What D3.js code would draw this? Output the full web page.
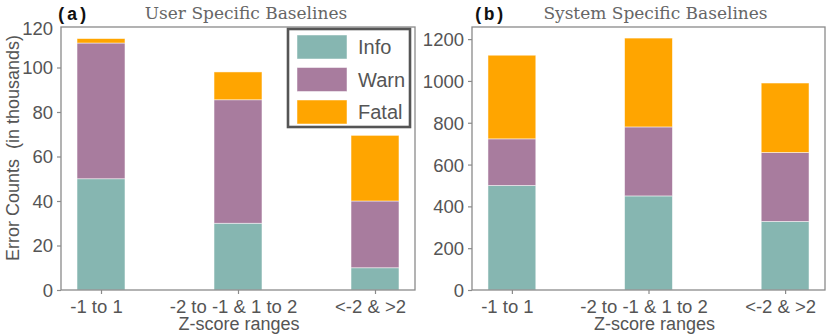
<!DOCTYPE html>
<html>
<head>
<meta charset="utf-8">
<script src="https://cdn.jsdelivr.net/npm/d3@7"></script>
<style>
  body { margin: 0; background: #fff; }
  svg { display: block; }
  .tick text { font-family: "Liberation Sans", Arial, sans-serif; font-size: 18.5px; fill: #555; }
</style>
</head>
<body>
<div id="chart"></div>
<script>
// data
var categories = ["-1 to 1", "-2 to -1 & 1 to 2", "<-2 & >2"];
var seriesNames = ["Info", "Warn", "Fatal"];
var colors = ["#86b6b1", "#a87c9e", "#ffa500"];

// user specific baselines (in thousands)
var userInfo  = [50, 30, 10];
var userWarn  = [61, 55.5, 30];
var userFatal = [2, 12.5, 29.5];
var userTicks = [0, 20, 40, 60, 80, 100, 120];

// system specific baselines
var sysInfo  = [500, 450, 328];
var sysWarn  = [223, 330, 330];
var sysFatal = [400, 425, 332];
var sysTicks = [0, 200, 400, 600, 800, 1000, 1200];

var W = 830, H = 335;
var svg = d3.select("#chart").append("svg").attr("width", W).attr("height", H);

var drawPanel = function (opt) {
    var left = opt.left, right = opt.right, top = 27, bottom = 290;

    var x = d3.scaleLinear().domain([-0.292, 2.292]).range([left, right]);
    var y = d3.scaleLinear().domain([0, opt.ymax]).range([bottom, top]);

    var rows = categories.map(function (c, i) {
        return { cat: i, Info: opt.info[i], Warn: opt.warn[i], Fatal: opt.fatal[i] };
    });
    var stacked = d3.stack().keys(seriesNames)(rows);
    var bw = 0.35;

    var g = svg.append("g");
    stacked.forEach(function (layer, k) {
        g.selectAll(".b" + k).data(layer).enter().append("rect")
            .attr("x", function (d) { return x(d.data.cat - bw / 2); })
            .attr("width", function (d) { return x(bw) - x(0); })
            .attr("y", function (d) { return y(d[1]); })
            .attr("height", function (d) { return y(d[0]) - y(d[1]); })
            .attr("fill", colors[k])
            .attr("stroke", "#fff")
            .attr("stroke-opacity", 0.6)
            .attr("stroke-width", 0.8);
    });

    // frame
    g.append("rect")
        .attr("x", left).attr("y", top)
        .attr("width", right - left).attr("height", bottom - top)
        .attr("fill", "none").attr("stroke", "#8a8a8a").attr("stroke-width", 1.3);

    // y axis
    var yAxis = d3.axisLeft(y).tickValues(opt.ticks).tickSize(4).tickPadding(4)
        .tickSizeOuter(0).tickFormat(d3.format("d"));
    var ya = g.append("g").attr("transform", "translate(" + left + ",0)").call(yAxis);
    ya.select(".domain").remove();
    ya.selectAll(".tick line").attr("stroke", "#8a8a8a").attr("stroke-width", 1.2);
    ya.selectAll(".tick text").attr("dy", "0.35em");
    // the top label sits just under the frame, without a tick mark
    ya.selectAll(".tick").filter(function (d) { return y(d) < top; })
        .attr("transform", "translate(0," + (top + 2) + ")")
        .select("line").remove();

    // x axis
    var xAxis = d3.axisBottom(x).tickValues([0, 1, 2]).tickSize(4).tickPadding(6)
        .tickFormat(function (d) { return categories[d]; });
    var xa = g.append("g").attr("transform", "translate(0," + bottom + ")").call(xAxis);
    xa.select(".domain").remove();
    xa.selectAll(".tick line").attr("stroke", "#8a8a8a").attr("stroke-width", 1.2);
    xa.selectAll(".tick text").attr("dx", -5);

    // x label
    g.append("text")
        .attr("x", (left + right) / 2 + opt.xlabDx).attr("y", 330)
        .attr("text-anchor", "middle")
        .style("font-family", "Liberation Sans, Arial, sans-serif")
        .style("font-size", "18px").style("fill", "#555")
        .text("Z-score ranges");

    // title and panel letter
    g.append("text")
        .attr("x", (left + right) / 2 + opt.titleDx).attr("y", 19)
        .attr("text-anchor", "middle")
        .style("font-family", "DejaVu Serif, serif")
        .style("font-size", "17px").style("fill", "#666")
        .text(opt.title);
    g.append("text")
        .attr("x", opt.letterX).attr("y", 20)
        .style("font-family", "Liberation Mono, Courier New, monospace")
        .style("font-weight", "bold")
        .style("font-size", "18px").style("fill", "#111")
        .text(opt.letter);

    return g;
};

var gA = drawPanel({
    left: 61, right: 415, ymax: 118.2, ticks: userTicks,
    info: userInfo, warn: userWarn, fatal: userFatal,
    title: "User Specific Baselines", titleDx: 8, xlabDx: 1,
    letter: "(a)", letterX: 56
});
drawPanel({
    left: 472, right: 825, ymax: 1258, ticks: sysTicks,
    info: sysInfo, warn: sysWarn, fatal: sysFatal,
    title: "System Specific Baselines", titleDx: 7, xlabDx: 6,
    letter: "(b)", letterX: 473
});

// y axis label
svg.append("text")
    .attr("transform", "translate(19,148) rotate(-90)")
    .attr("text-anchor", "middle")
    .style("font-family", "Liberation Sans, Arial, sans-serif")
    .style("font-size", "18px").style("fill", "#555")
    .style("white-space", "pre")
    .text("Error Counts  (in thousands)");

// legend
var lg = gA.append("g");
lg.append("rect")
    .attr("x", 288).attr("y", 29).attr("width", 122).attr("height", 98)
    .attr("fill", "#fff").attr("stroke", "#555").attr("stroke-width", 2.6);
seriesNames.forEach(function (s, i) {
    var yy = 35 + i * 32.5;
    lg.append("rect")
        .attr("x", 297).attr("y", yy).attr("width", 50).attr("height", 24)
        .attr("fill", colors[i]).attr("stroke", "#fff").attr("stroke-opacity", 0.6).attr("stroke-width", 0.8);
    lg.append("text")
        .attr("x", 358).attr("y", yy + 12).attr("dy", "0.35em")
        .style("font-family", "Liberation Sans, Arial, sans-serif")
        .style("font-size", "20px").style("fill", "#555")
        .text(s);
});
</script>
</body>
</html>
